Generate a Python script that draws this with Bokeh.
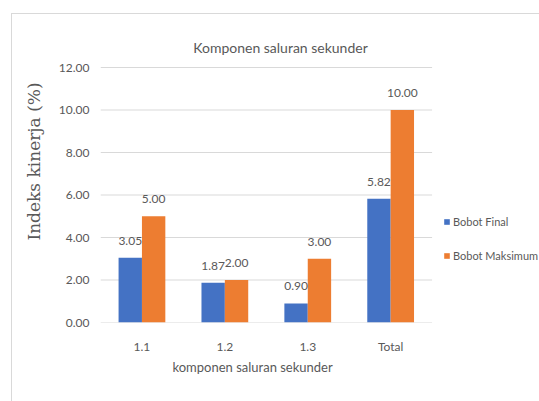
from bokeh.plotting import figure
from bokeh.models import (ColumnDataSource, Range1d, Legend, LegendItem, Label,
                          Title, NumeralTickFormatter, FixedTicker)
from bokeh.transform import dodge
from bokeh.embed import file_html
from bokeh.resources import INLINE
from bokeh.core.properties import value

categories = ["1.1", "1.2", "1.3", "Total"]
bobot_final = [3.05, 1.87, 0.90, 5.82]
bobot_maks = [5.00, 2.00, 3.00, 10.00]
y_ticks = [0, 2, 4, 6, 8, 10, 12]
series_names = ["Bobot Final", "Bobot Maksimum"]
title_text = "Komponen saluran sekunder"
x_title = "komponen saluran sekunder"
y_title = "Indeks kinerja (%)"

GRAY = "#595959"
FONT = "Lato"
BLUE = "#4472C4"
ORANGE = "#ED7D31"

# category slots on a numeric axis (one unit per category); the plot area
# continues to the right (legend) and up (title), as in the reference chart
pos = [i + 0.5 for i in range(len(categories))]
src = ColumnDataSource(dict(
    pos=pos,
    final=bobot_final,
    maks=bobot_maks,
    final_lbl=["%.2f" % v for v in bobot_final],
    maks_lbl=["%.2f" % v for v in bobot_maks],
))

p = figure(width=539, height=401, x_range=Range1d(0, 5.2955), y_range=Range1d(0, 15.153),
           output_backend="svg", toolbar_location=None,
           min_border_left=100, min_border_right=0, min_border_top=0, min_border_bottom=79,
           title=None)
p.styles = {"box-shadow": "inset 11px 13px 0 0 white, inset 12px 14px 0 0 #d9d9d9"}
p.outline_line_color = None
p.background_fill_alpha = 0
p.border_fill_alpha = 0

# horizontal gridlines spanning the category slots only
p.segment(x0=0, x1=len(categories), y0=y_ticks, y1=y_ticks, line_color="#d9d9d9",
          line_width=1)

w = 0.282
r1 = p.vbar(x=dodge("pos", -w / 2), top="final", width=w, source=src,
            fill_color=BLUE, line_color=None)
r2 = p.vbar(x=dodge("pos", w / 2), top="maks", width=w, source=src,
            fill_color=ORANGE, line_color=None)

p.text(x=dodge("pos", -w / 2), y="final", text="final_lbl", source=src,
       text_align="center", text_baseline="middle", y_offset=-17,
       text_font=value(FONT), text_font_size="12px", text_color=GRAY)
p.text(x=dodge("pos", w / 2), y="maks", text="maks_lbl", source=src,
       text_align="center", text_baseline="middle", y_offset=-17,
       text_font=value(FONT), text_font_size="12px", text_color=GRAY)

# axes
p.xgrid.grid_line_color = None
p.ygrid.grid_line_color = None
p.xaxis.ticker = FixedTicker(ticks=pos)
p.xaxis.major_label_overrides = {pp: c for pp, c in zip(pos, categories)}
p.yaxis.ticker = FixedTicker(ticks=y_ticks)
p.yaxis.formatter = NumeralTickFormatter(format="0.00")
for ax in (p.xaxis[0], p.yaxis[0]):
    ax.axis_line_color = None
    ax.major_tick_line_color = None
    ax.minor_tick_line_color = None
    ax.major_tick_out = 0
    ax.major_tick_in = 0
    ax.minor_tick_out = 0
    ax.minor_tick_in = 0
    ax.major_label_text_font = FONT
    ax.major_label_text_font_size = "12px"
    ax.major_label_text_color = GRAY
p.yaxis.major_label_standoff = 11
p.xaxis.major_label_standoff = 16

p.yaxis.axis_label = y_title
p.yaxis.axis_label_text_font = "DejaVu Serif"
p.yaxis.axis_label_text_font_style = "normal"
p.yaxis.axis_label_text_font_size = "17px"
p.yaxis.axis_label_text_color = GRAY
p.yaxis.axis_label_standoff = 12

# chart title (inside the plot area, above the 12.00 gridline)
p.add_layout(Label(x=2.171, y=12.955, text=title_text, text_align="center",
                   text_baseline="alphabetic", text_font=FONT, text_font_size="14px",
                   text_color=GRAY))
p.add_layout(Title(text=x_title, align="left", offset=72, text_font=FONT,
                   text_font_size="13px", text_font_style="normal", text_color=GRAY,
                   standoff=0), "below")

legend = Legend(items=[LegendItem(label=series_names[0], renderers=[r1]),
                       LegendItem(label=series_names[1], renderers=[r2])],
                location=(343, 57), orientation="vertical",
                glyph_width=7, glyph_height=7, label_standoff=3, label_height=20,
                spacing=14, padding=0, margin=0, border_line_color=None,
                background_fill_alpha=0, label_text_font=FONT,
                label_text_font_size="11px", label_text_color=GRAY)
p.add_layout(legend, "center")

open("out.html", "w").write(file_html(p, INLINE))
